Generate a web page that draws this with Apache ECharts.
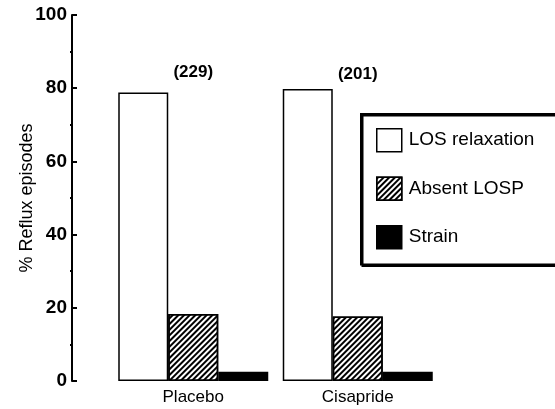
<!DOCTYPE html>
<html><head><meta charset="utf-8">
<script src="https://cdn.jsdelivr.net/npm/echarts@6/dist/echarts.min.js"></script>
<style>html,body{margin:0;padding:0;background:#fff}#c{width:555px;height:409px}</style>
</head><body><div id="c"></div>
<script>
const categories = ['Placebo', 'Cisapride'];
const seriesNames = ['LOS relaxation', 'Absent LOSP', 'Strain'];
const losRelaxation = [78.8, 79.8];
const absentLOSP = [18.3, 17.6];
const strain = [2.5, 2.5];
const episodeCounts = ['(229)', '(201)'];
const countLabelLift = [-7, -1];
const yMinorTicks = [10, 30, 50, 70, 90];

const FONT = "'Liberation Sans', Arial, sans-serif";
const chart = echarts.init(document.getElementById('c'), null, {renderer: 'canvas'});

chart.setOption({
  animation: false,
  backgroundColor: '#fff',
  grid: {left: 111, right: 115, top: 15, bottom: 28},
  xAxis: {type: 'category', data: categories,
    axisLine: {show: false}, axisTick: {show: false},
    axisLabel: {color: '#000', fontFamily: FONT, fontSize: 17, margin: 8}},
  yAxis: [
    {type: 'value', min: 0, max: 100, interval: 20, position: 'left', offset: 39,
      splitLine: {show: false},
      axisLine: {show: true, lineStyle: {color: '#000', width: 2}},
      axisTick: {show: true, inside: true, length: 5, lineStyle: {color: '#000', width: 2}},
      axisLabel: {show: true, color: '#000', fontFamily: FONT, fontSize: 19, fontWeight: 'bold', margin: 5},
      name: '% Reflux episodes', nameLocation: 'middle', nameGap: 36, nameMoveOverlap: false,
      nameTextStyle: {color: '#000', fontFamily: FONT, fontSize: 18}},
    {type: 'value', min: 0, max: 100, interval: 10, position: 'left', offset: 39,
      splitLine: {show: false}, axisLine: {show: false},
      axisTick: {show: true, length: 2, lineStyle: {color: '#000', width: 2}, customValues: yMinorTicks},
      axisLabel: {show: false}}
  ],
  legend: {
    orient: 'vertical', left: 361, top: 114,
    data: seriesNames,
    icon: 'rect', itemWidth: 25, itemHeight: 23, itemGap: 24,
    padding: [14, 22, 15, 15],
    backgroundColor: '#fff', borderColor: '#000', borderWidth: 2, borderRadius: 0,
    shadowColor: '#000', shadowBlur: 0, shadowOffsetX: 1.5, shadowOffsetY: 1.5,
    textStyle: {color: '#000', fontFamily: FONT, fontSize: 19, padding: [0, 0, 0, 2]},
    itemStyle: {borderColor: '#000', borderWidth: 1.5}
  },
  series: [
    {name: seriesNames[0], type: 'bar', barWidth: 50, barGap: '0%',
      data: losRelaxation.map((v, i) => ({value: v, label: {offset: [50, countLabelLift[i]]}})),
      itemStyle: {color: '#fff', borderColor: '#000', borderWidth: 1.5},
      label: {show: true, position: 'top',
        formatter: p => episodeCounts[p.dataIndex],
        color: '#000', fontFamily: FONT, fontSize: 17, fontWeight: 'bold'}},
    {name: seriesNames[1], type: 'bar', data: absentLOSP, barWidth: 50, barGap: '0%',
      itemStyle: {color: '#fff', borderColor: '#000', borderWidth: 1.5,
        decal: {symbol: 'rect', color: '#000', dashArrayX: [1, 0], dashArrayY: [1.2, 2], rotation: -Math.PI / 4}}},
    {name: seriesNames[2], type: 'bar', data: strain, barWidth: 50, barGap: '0%',
      itemStyle: {color: '#000', borderColor: '#000', borderWidth: 1.5}}
  ]
});
</script></body></html>
